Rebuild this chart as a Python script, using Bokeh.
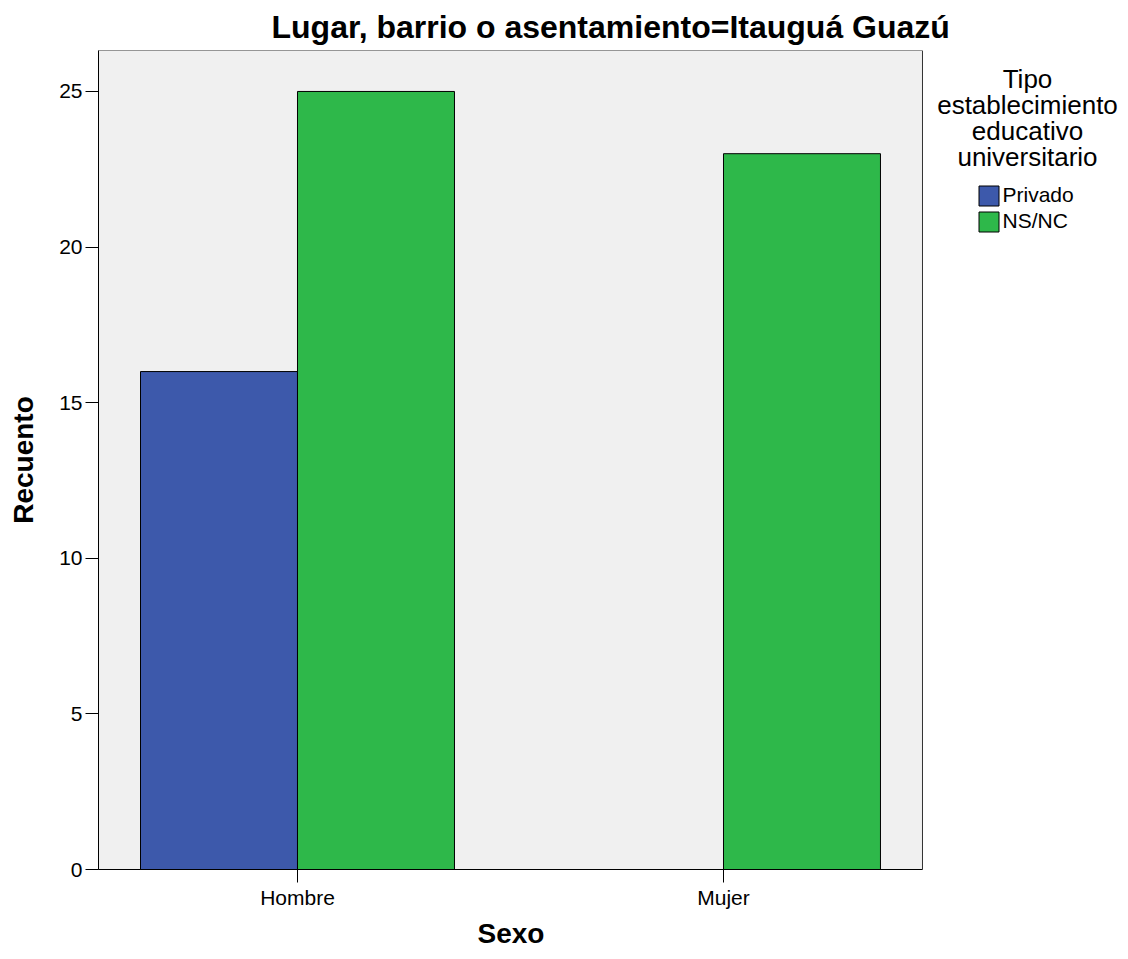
from bokeh.plotting import figure
from bokeh.models import (Range1d, FixedTicker, SingleIntervalTicker, Legend,
                          LegendItem, Label, ColumnDataSource, BoxAnnotation, Title)
from bokeh.transform import dodge
from bokeh.embed import file_html
from bokeh.resources import INLINE

# ---- data ----
categories = ["Hombre", "Mujer"]
series_names = ["Privado", "NS/NC"]
privado = [16, 0]
ns_nc = [25, 23]
title_text = "Lugar, barrio o asentamiento=Itauguá Guazú"
legend_title_lines = ["Tipo", "establecimiento", "educativo", "universitario"]
x_label = "Sexo"
y_label = "Recuento"

# ---- styles ----
FONT = "Liberation Sans"
BLUE = "#3D59AB"
GREEN = "#2EB84A"

xs = [i + 1 for i in range(len(categories))]
src = ColumnDataSource(dict(x=xs, privado=privado, nsnc=ns_nc))

X0, X1 = 0.5329, 2.4671      # extent of the grey plotting box
Y1 = 26.316

p = figure(width=1126, height=959,
           x_range=Range1d(X0, 2.946), y_range=Range1d(0, Y1),
           output_backend="svg", toolbar_location=None,
           min_border_left=98, min_border_right=0,
           min_border_top=49, min_border_bottom=90,
           title=title_text)

p.title.align = "left"
p.title.offset = 173
p.title.standoff = 12
p.title.text_font = FONT
p.title.text_font_size = "32px"
p.title.text_font_style = "bold"
p.title.text_color = "black"

p.background_fill_color = "white"
p.border_fill_color = "white"
p.outline_line_color = None
p.xgrid.visible = False
p.ygrid.visible = False

# grey plotting box with its border
p.add_layout(BoxAnnotation(left=X0, right=X1, bottom=0, top=Y1, level="underlay",
                           fill_color="#F0F0F0", fill_alpha=1,
                           line_color="#333333", line_width=1, line_alpha=1))

bw = 0.3685
r1 = p.vbar(x=dodge("x", -bw / 2), top="privado", width=bw, source=src,
            fill_color=BLUE, line_color="black", line_width=1)
r2 = p.vbar(x=dodge("x", bw / 2), top="nsnc", width=bw, source=src,
            fill_color=GREEN, line_color="black", line_width=1)

# axes
p.xaxis.ticker = FixedTicker(ticks=xs)
p.xaxis.major_label_overrides = {x: c for x, c in zip(xs, categories)}
p.xaxis.bounds = (X0, X1)
p.yaxis.ticker = SingleIntervalTicker(interval=5, num_minor_ticks=0)
p.yaxis.axis_label = y_label
for ax in (p.xaxis, p.yaxis):
    ax.axis_line_color = "black"
    ax.major_tick_line_color = "black"
    ax.major_tick_out = 13
    ax.major_tick_in = 0
    ax.minor_tick_out = 0
    ax.minor_tick_in = 0
    ax.major_label_text_font = FONT
    ax.major_label_text_font_size = "21px"
    ax.major_label_text_color = "black"
    ax.major_label_standoff = 3
    ax.axis_label_text_font = FONT
    ax.axis_label_text_font_size = "28px"
    ax.axis_label_text_font_style = "bold"
    ax.axis_label_text_color = "black"
p.yaxis.axis_label_standoff = 17

# x-axis title, centred under the grey box
p.add_layout(Title(text=x_label, align="left", offset=379, vertical_align="top",
                   standoff=12, text_font=FONT, text_font_size="28px",
                   text_font_style="bold", text_color="black"), "below")

# legend title lines
for i, line in enumerate(legend_title_lines):
    p.add_layout(Label(x=929, y=791 - 26 * i, x_units="screen", y_units="screen",
                       text=line, text_align="center", text_baseline="alphabetic",
                       text_font=FONT, text_font_size="26px", text_color="black"))

legend = Legend(items=[LegendItem(label=series_names[0], renderers=[r1]),
                       LegendItem(label=series_names[1], renderers=[r2])],
                location=(877.5, 635), padding=0, margin=0, spacing=0,
                glyph_width=25, glyph_height=25, label_height=26,
                label_standoff=2, label_text_font=FONT,
                label_text_font_size="21px", label_text_color="black",
                border_line_alpha=0, background_fill_alpha=0)
p.add_layout(legend)

open("out.html", "w").write(file_html(p, INLINE))
